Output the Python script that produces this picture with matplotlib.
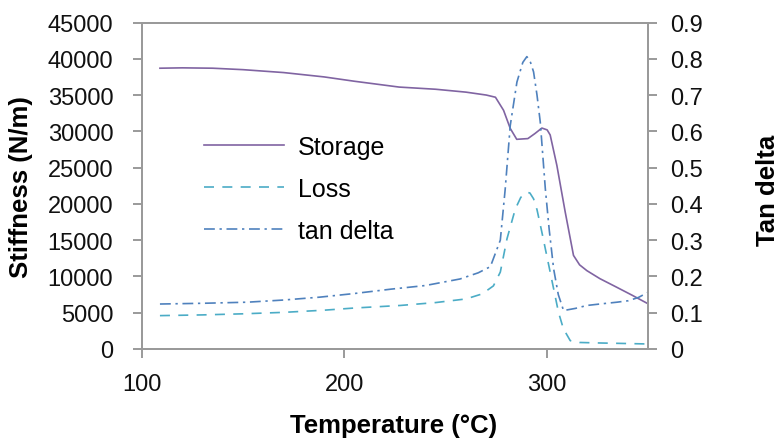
import matplotlib
matplotlib.use('Agg')
import matplotlib.pyplot as plt

plt.rcParams['font.family'] = ['Liberation Sans', 'DejaVu Sans']

# Storage stiffness (N/m)
storage_t = [109, 120, 135, 150, 170, 190, 205, 227, 245, 260, 270, 274.5, 278.5,
             281.8, 285, 290.5, 294, 297.4, 300, 301.5, 304.8, 308.9, 313, 316,
             319.6, 326, 334.4, 342, 350]
storage = [38700, 38750, 38700, 38500, 38100, 37500, 36900, 36100, 35800, 35400,
           35000, 34700, 32900, 30400, 28900, 29000, 29700, 30450, 30200, 29500,
           25300, 18900, 12900, 11600, 10800, 9700, 8500, 7400, 6200]

# Loss stiffness (N/m)
loss_t = [109, 130, 150, 170, 190, 205, 227.5, 245, 260, 268, 273.5, 276.9, 280.2,
          284.3, 287, 290, 291.5, 293.3, 295, 297.4, 301.5, 305.6, 308, 311.4, 316,
          326, 340, 350]
loss = [4600, 4700, 4850, 5050, 5350, 5650, 6000, 6400, 6900, 7600, 8700, 10600,
        15200, 19300, 20900, 21600, 21500, 20700, 19200, 16100, 10600, 5060, 2800,
        1150, 900, 830, 750, 690]

# tan delta (right axis)
tan_t = [109, 130, 152, 170, 188, 205, 223, 240, 257, 266, 272, 276.9, 279.3,
         281.8, 285.1, 288, 290, 291.8, 293.3, 295, 296.6, 299.1, 301, 303.2,
         305.5, 308.1, 314, 319.6, 326, 334.4, 340, 345, 350]
tan_delta = [0.124, 0.126, 0.129, 0.135, 0.143, 0.153, 0.165, 0.175, 0.193, 0.21,
             0.227, 0.30, 0.44, 0.616, 0.736, 0.79, 0.806, 0.79, 0.764, 0.70, 0.626,
             0.442, 0.33, 0.221, 0.15, 0.106, 0.112, 0.120, 0.124, 0.129, 0.133,
             0.142, 0.157]

left_ticks = [0, 5000, 10000, 15000, 20000, 25000, 30000, 35000, 40000, 45000]
right_ticks = [0, 0.1, 0.2, 0.3, 0.4, 0.5, 0.6, 0.7, 0.8, 0.9]
right_labels = ['0', '0.1', '0.2', '0.3', '0.4', '0.5', '0.6', '0.7', '0.8', '0.9']
x_ticks = [100, 200, 300]

W, H = 782, 439
fig = plt.figure(figsize=(W / 100, H / 100), dpi=100)
ax = fig.add_axes([141.7 / W, 1 - 350 / H, (648.5 - 141.7) / W, (350 - 23.5) / H])
ax2 = ax.twinx()

spine_col = '#9a9a9a'
l1, = ax.plot(storage_t, storage, color='#8064A2', lw=1.2, label='Storage')
l2, = ax.plot(loss_t, loss, color='#4BACC6', lw=1.2, dashes=(6, 5), label='Loss')
l3, = ax2.plot(tan_t, tan_delta, color='#4F81BD', lw=1.2,
               dashes=(6.5, 2.8, 1.4, 2.8), label='tan delta')

ax.set_xlim(100, 350)
ax.set_ylim(0, 45000)
ax2.set_ylim(0, 0.9)
ax.set_xticks(x_ticks)
ax.set_yticks(left_ticks)
ax2.set_yticks(right_ticks)
ax2.set_yticklabels(right_labels)

for a in (ax, ax2):
    for s in a.spines.values():
        s.set_color(spine_col)
        s.set_linewidth(1.4)
ax.tick_params(axis='both', colors=spine_col, labelcolor='#111111', labelsize=17,
               length=6.5, width=1.4, direction='out')
ax.tick_params(axis='y', pad=14)
ax.tick_params(axis='x', pad=11)
ax2.tick_params(axis='y', colors=spine_col, labelcolor='#111111', labelsize=17,
                length=6.5, width=1.4, direction='out', pad=9)

fig.text(21 / W, 1 - 187 / H, 'Stiffness (N/m)', rotation=90, fontsize=18.5,
         fontweight='bold', ha='center', va='center')
fig.text(768 / W, 1 - 190 / H, 'Tan delta', rotation=90, fontsize=18.5,
         fontweight='bold', ha='center', va='center')
fig.text(394 / W, 1 - 433 / H, 'Temperature (°C)', fontsize=18.5,
         fontweight='bold', ha='center', va='baseline')

fig.legend(handles=[l1, l2, l3], loc='upper left',
           bbox_to_anchor=(204 / W, 1 - 136 / H), frameon=False, fontsize=18,
           handlelength=3.2, handletextpad=0.55, labelspacing=0.72,
           borderpad=0, borderaxespad=0)

fig.savefig('out.png', dpi=100)
